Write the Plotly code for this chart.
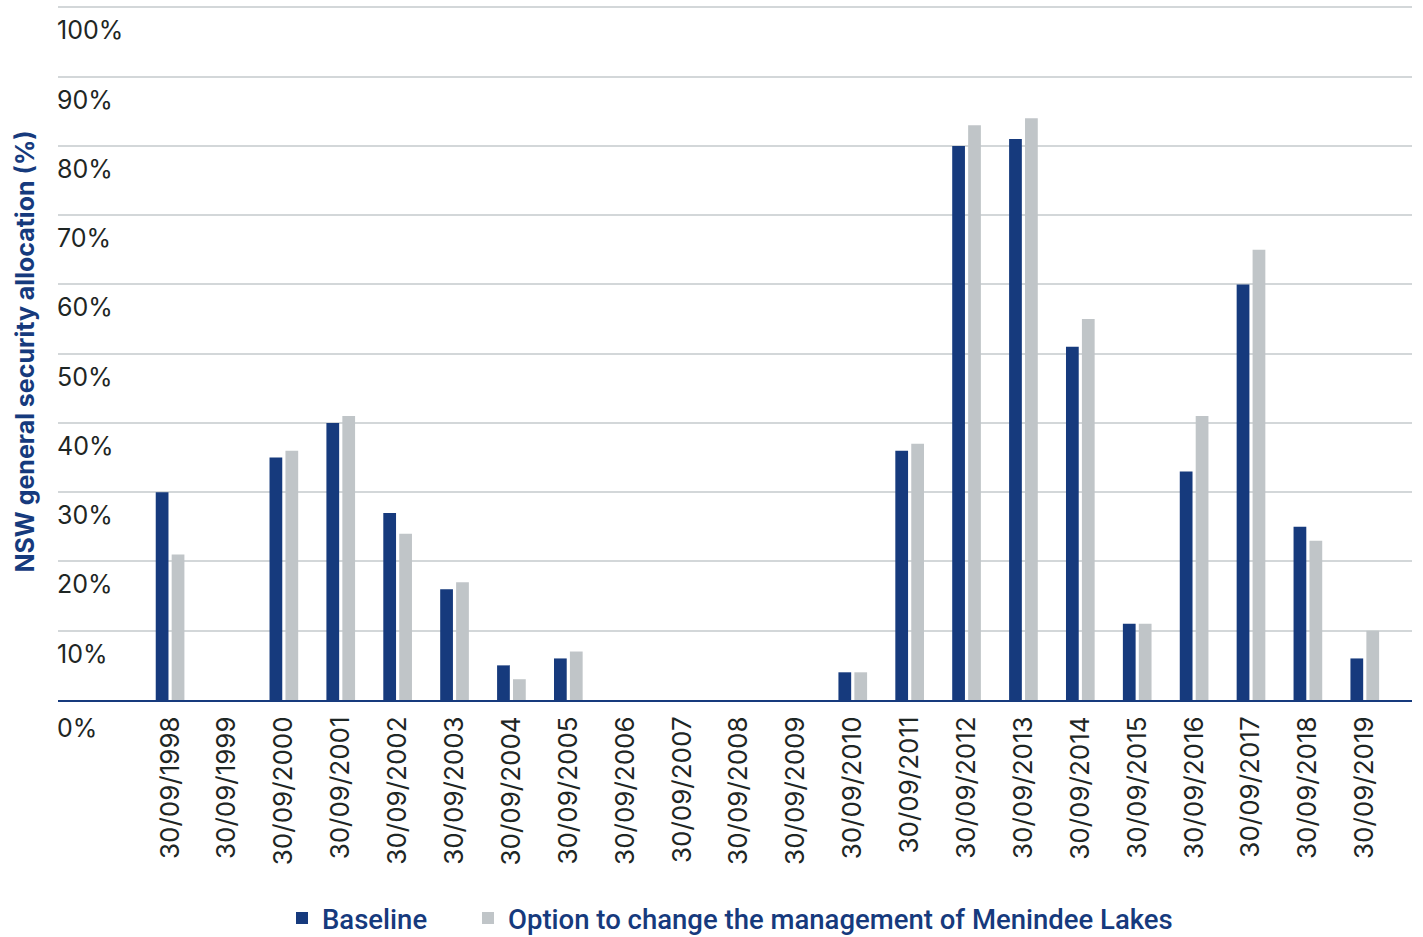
import plotly.graph_objects as go

# Allocation dates (30 September each year)
dates = [f"30/09/{y}" for y in range(1998, 2020)]

# NSW general security allocation (%) at 30 September
baseline = [30, 0, 35, 40, 27, 16, 5, 6, 0, 0, 0, 0, 4, 36, 80, 81, 51, 11, 33, 60, 25, 6]
menindee_option = [21, 0, 36, 41, 24, 17, 3, 7, 0, 0, 0, 0, 4, 37, 83, 84, 55, 11, 41, 65, 23, 10]

# Y-axis tick values and labels
y_ticks = [0, 10, 20, 30, 40, 50, 60, 70, 80, 90, 100]
y_tick_labels = [f"{v}%" for v in y_ticks]

NAVY = "#163a7d"
GREY = "#c0c5c8"
TEXT = "#1e2624"
FONT = "Inter, Roboto, Arial, sans-serif"
LEGEND_FONT = dict(family="Roboto, Inter, sans-serif", size=27.5, color=NAVY, weight=500)

fig = go.Figure()
fig.add_trace(go.Bar(
    x=dates, y=baseline, name="Baseline",
    marker=dict(color=NAVY, line=dict(width=0)),
    legend="legend",
))
fig.add_trace(go.Bar(
    x=dates, y=menindee_option,
    name="Option to change the management of Menindee Lakes",
    marker=dict(color=GREY, line=dict(width=0)),
    legend="legend2",
))

# Y tick labels sit just below their gridlines
annotations = []
for v, lab in zip(y_ticks, y_tick_labels):
    annotations.append(dict(
        x=0, xref="paper", y=v, yref="y",
        text=lab, showarrow=False,
        xanchor="left", yanchor="middle", xshift=-3, yshift=-23 if v else -28,
        font=dict(family=FONT, size=25, color=TEXT),
    ))

# Vertical axis title
annotations.append(dict(
    x=0, xref="paper", y=0.502, yref="paper",
    text="<b>NSW general security allocation (%)</b>", showarrow=False,
    textangle=-90, xanchor="center", yanchor="middle", xshift=-33,
    font=dict(family=FONT, size=25, color=NAVY),
))

legend_common = dict(
    orientation="h",
    yref="container", y=1 - 918 / 937, yanchor="middle",
    xref="container", xanchor="left",
    font=LEGEND_FONT, itemwidth=30, borderwidth=0,
)

fig.update_layout(
    width=1423, height=937,
    margin=dict(l=58, r=11, t=6, b=237, autoexpand=False),
    paper_bgcolor="white", plot_bgcolor="white",
    barmode="group", bargap=0.44, bargroupgap=0.2,
    showlegend=True,
    legend=dict(x=282 / 1423, **legend_common),
    legend2=dict(x=468 / 1423, **legend_common),
    annotations=annotations,
)

fig.update_xaxes(
    type="category",
    range=[-1.97, 21.83],
    tickangle=-90,
    tickfont=dict(family=FONT, size=26, color=TEXT),
    ticks="outside", ticklen=4, tickcolor="rgba(0,0,0,0)",
    showgrid=False,
    showline=True, linecolor=NAVY, linewidth=2,
    zeroline=False,
)
fig.update_yaxes(
    range=[0, 100.2],
    tickvals=y_ticks,
    showticklabels=False,
    showgrid=True, gridcolor="#d3d7d9", gridwidth=1.5,
    zeroline=False, showline=False,
)

fig.write_html("out.html")
